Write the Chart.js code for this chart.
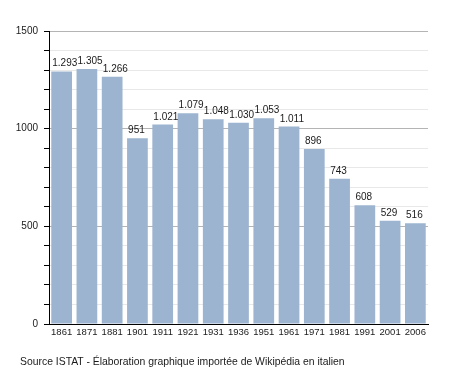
<!DOCTYPE html>
<html>
<head>
<meta charset="utf-8">
<script src="https://cdn.jsdelivr.net/npm/chart.js@4/dist/chart.umd.min.js"></script>
<style>
html,body{margin:0;padding:0;background:#fff;}
#wrap{width:455px;height:373px;position:relative;}
#caption{position:absolute;left:20px;top:355px;font-family:"Liberation Sans", Arial, sans-serif;font-size:10.4px;line-height:14px;color:#1a1a1a;white-space:nowrap;}
</style>
</head>
<body>
<div id="wrap"><canvas id="c" width="455" height="373"></canvas><div id="caption"></div></div>
<script>
const years = ['1861','1871','1881','1901','1911','1921','1931','1936','1951','1961','1971','1981','1991','2001','2006'];
const population = [1293,1305,1266,951,1021,1079,1048,1030,1053,1011,896,743,608,529,516];
const yTicks = [0,500,1000,1500];
const caption = 'Source ISTAT - Élaboration graphique importée de Wikipédia en italien';

document.getElementById('caption').textContent = caption;

const FONT = '"Liberation Sans", Arial, sans-serif';

function fmt(v){
  return String(v).replace(/\B(?=(\d{3})+(?!\d))/g, '.');
}

const labelPlugin = {
  id: 'barLabels',
  afterDatasetsDraw(chart){
    const ctx = chart.ctx;
    const meta = chart.getDatasetMeta(0);
    ctx.save();
    ctx.font = '10px ' + FONT;
    ctx.fillStyle = '#1a1a1a';
    ctx.textAlign = 'left';
    ctx.textBaseline = 'alphabetic';
    meta.data.forEach((bar, i) => {
      const left = bar.x - bar.width / 2;
      ctx.fillText(fmt(population[i]), left + 1, bar.y - 5);
    });
    ctx.restore();
  }
};

new Chart(document.getElementById('c'), {
  type: 'bar',
  data: {
    labels: years,
    datasets: [{
      data: population,
      backgroundColor: '#9cb4cf',
      borderWidth: 0,
      barPercentage: 0.82,
      categoryPercentage: 1.0
    }]
  },
  options: {
    responsive: false,
    animation: false,
    layout: { padding: { left: 0, right: 27, top: 31, bottom: 26 } },
    plugins: {
      legend: { display: false },
      tooltip: { enabled: false },
      title: { display: false }
    },
    scales: {
      x: {
        grid: { display: false, drawTicks: false },
        border: { display: true, color: '#000', width: 1 },
        ticks: {
          color: '#1a1a1a',
          font: { family: FONT, size: 9.5 },
          padding: 3,
          maxRotation: 0,
          autoSkip: false
        },
        afterFit(scale){ scale.height = 23; }
      },
      y: {
        min: 0,
        max: 1500,
        grid: {
          color: (c) => (c.tick && yTicks.includes(c.tick.value)) ? '#b4b4b4' : '#e8e8e8',
          tickColor: '#000',
          tickLength: 5,
          drawTicks: true
        },
        border: { display: true, color: '#000', width: 1 },
        ticks: {
          stepSize: 100,
          autoSkip: false,
          padding: 6,
          color: '#1a1a1a',
          font: { family: FONT, size: 10 },
          callback: (v) => yTicks.includes(v) ? String(v) : ''
        },
        afterFit(scale){ scale.width = 49; }
      }
    }
  },
  plugins: [labelPlugin]
});
</script>
</body>
</html>
